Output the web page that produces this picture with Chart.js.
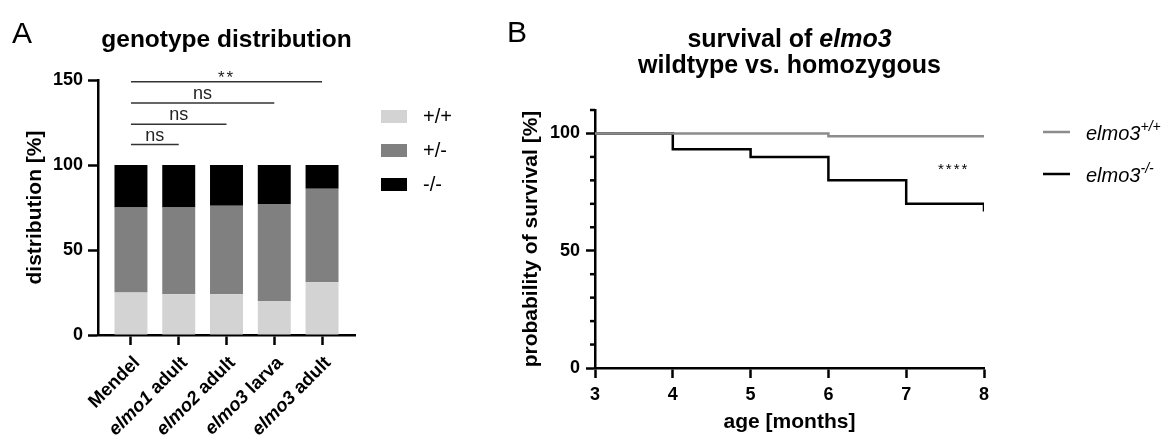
<!DOCTYPE html>
<html>
<head>
<meta charset="utf-8">
<script src="https://cdn.jsdelivr.net/npm/chart.js@4.4.1/dist/chart.umd.min.js"></script>
<style>
  html, body { margin: 0; padding: 0; background: #fff; }
  #chartA { position: absolute; left: 0; top: 0; }
  #chartB { position: absolute; left: 480px; top: 0; }
</style>
</head>
<body>
<canvas id="chartA" width="470" height="437"></canvas>
<canvas id="chartB" width="692" height="437"></canvas>
<script>
const fam = '"Liberation Sans", Arial, sans-serif';
Chart.defaults.font.family = fam;
Chart.defaults.color = '#000';

// panel A - genotype distribution [%]
const genotypeGroups = ['Mendel', 'elmo1 adult', 'elmo2 adult', 'elmo3 larva', 'elmo3 adult'];
const wildtypePct = [25, 24, 24, 20, 31];
const heterozygousPct = [50, 51, 52, 57, 55];
const homozygousPct = [25, 25, 24, 23, 14];
const genotypeLabels = ['+/+', '+/-', '-/-'];
const genotypeColors = ['#d3d3d3', '#808080', '#000000'];

// significance brackets (from group, to group, text, height in %)
const sigFrom = [0, 0, 0, 0];
const sigTo = [1, 2, 3, 4];
const sigText = ['ns', 'ns', 'ns', '**'];
const sigLevel = [112, 124, 136.5, 149];

// panel B - survival
const ageMonths = [3, 4, 5, 6, 7, 8];
const survivalWT = [100, 100, 100, 98.8, 98.8, 98.8];
const survivalHom = [100, 93.3, 90, 80, 70, 66.7];
const survivalLabels = ['+/+', '-/-'];
const survivalColors = ['#8c8c8c', '#000000'];
const survivalSig = '****';
const survivalSigAt = [7.61, 85.7];

// draw a run of text pieces with different fonts
function drawParts(ctx, parts, x, y, align) {
  let total = 0;
  parts.forEach(p => { ctx.font = p.font; total += ctx.measureText(p.text).width; });
  let cx = align === 'right' ? x - total : align === 'center' ? x - total / 2 : x;
  ctx.textAlign = 'left';
  parts.forEach(p => {
    ctx.font = p.font;
    ctx.fillText(p.text, cx, y + (p.dy || 0));
    cx += ctx.measureText(p.text).width;
  });
}

function groupParts(label) {
  const m = label.match(/^(elmo\d)(.*)$/);
  if (!m) return [{text: label, font: 'bold 18.5px ' + fam}];
  return [{text: m[1], font: 'italic bold 18.5px ' + fam}, {text: m[2], font: 'bold 18.5px ' + fam}];
}

const panelA = {
  id: 'panelA',
  afterDraw(chart) {
    const {ctx, chartArea, scales: {x, y}} = chart;
    ctx.save();
    ctx.fillStyle = '#000';
    ctx.textBaseline = 'alphabetic';
    ctx.font = '30px ' + fam;
    ctx.textAlign = 'left';
    ctx.fillText('A', 12, 43);
    ctx.font = 'bold 24.5px ' + fam;
    ctx.textAlign = 'center';
    ctx.fillText('genotype distribution', (chartArea.left + chartArea.right) / 2, 47);

    // significance lines
    ctx.strokeStyle = '#333';
    ctx.fillStyle = '#222';
    ctx.lineWidth = 1.5;
    sigText.forEach((t, i) => {
      const x1 = x.getPixelForValue(sigFrom[i]);
      const x2 = x.getPixelForValue(sigTo[i]);
      const yy = y.getPixelForValue(sigLevel[i]);
      ctx.beginPath();
      ctx.moveTo(x1, yy);
      ctx.lineTo(x2, yy);
      ctx.stroke();
      ctx.textAlign = 'center';
      if (t === 'ns') {
        ctx.font = '18px ' + fam;
        ctx.fillText(t, (x1 + x2) / 2, yy - 4);
      } else {
        ctx.font = '17px ' + fam;
        ctx.letterSpacing = '2px';
        ctx.fillText(t, (x1 + x2) / 2, yy + 1);
        ctx.letterSpacing = '0px';
      }
    });

    // rotated group labels
    ctx.fillStyle = '#000';
    ctx.textBaseline = 'middle';
    genotypeGroups.forEach((g, i) => {
      const px = x.getPixelForValue(i);
      ctx.save();
      ctx.translate(px + 6, chartArea.bottom + 25);
      ctx.rotate(-Math.PI / 4);
      drawParts(ctx, groupParts(g), 0, 0, 'right');
      ctx.restore();
    });

    // legend
    genotypeLabels.forEach((lab, k) => {
      const top = 110 + k * 34;
      ctx.fillStyle = genotypeColors[k];
      ctx.fillRect(chartArea.right + 26, top, 26, 13);
      ctx.fillStyle = '#000';
      ctx.font = '20px ' + fam;
      ctx.textAlign = 'left';
      ctx.textBaseline = 'middle';
      ctx.fillText(lab, chartArea.right + 68, top + 7);
    });
    ctx.restore();
  }
};

const panelB = {
  id: 'panelB',
  afterDraw(chart) {
    const {ctx, chartArea, scales: {x, y}} = chart;
    ctx.save();
    ctx.fillStyle = '#000';
    ctx.textBaseline = 'alphabetic';
    ctx.font = '30px ' + fam;
    ctx.textAlign = 'left';
    ctx.fillText('B', 27, 42);
    const cx = (chartArea.left + chartArea.right) / 2;
    drawParts(ctx, [
      {text: 'survival of ', font: 'bold 25px ' + fam},
      {text: 'elmo3', font: 'italic bold 25px ' + fam}
    ], cx, 47, 'center');
    drawParts(ctx, [{text: 'wildtype vs. homozygous', font: 'bold 25px ' + fam}], cx, 73, 'center');

    // minor y ticks
    ctx.strokeStyle = '#000';
    ctx.lineWidth = 2.5;
    y.ticks.forEach(t => {
      if (t.value % 50 === 0) return;
      const py = y.getPixelForValue(t.value);
      ctx.beginPath();
      ctx.moveTo(chartArea.left - 5, py);
      ctx.lineTo(chartArea.left, py);
      ctx.stroke();
    });

    // log-rank result
    ctx.font = '15px ' + fam;
    ctx.textAlign = 'center';
    ctx.textBaseline = 'middle';
    ctx.letterSpacing = '2px';
    ctx.fillText(survivalSig, x.getPixelForValue(survivalSigAt[0]), y.getPixelForValue(survivalSigAt[1]) + 3);
    ctx.letterSpacing = '0px';

    // legend
    survivalLabels.forEach((sup, k) => {
      const ly = 132 + k * 42;
      ctx.strokeStyle = survivalColors[k];
      ctx.lineWidth = 2.5;
      ctx.beginPath();
      ctx.moveTo(chartArea.right + 59, ly);
      ctx.lineTo(chartArea.right + 86, ly);
      ctx.stroke();
      ctx.fillStyle = '#000';
      ctx.textBaseline = 'alphabetic';
      drawParts(ctx, [
        {text: 'elmo3', font: 'italic 20px ' + fam},
        {text: sup, font: 'italic 14px ' + fam, dy: -9}
      ], chartArea.right + 102, ly + 8, 'left');
    });
    ctx.restore();
  }
};

const axisLine = {color: '#000', width: 2.5};
const tickGrid = {drawOnChartArea: false, offset: false, tickLength: 10, tickWidth: 2.5, tickColor: '#000'};

new Chart(document.getElementById('chartA'), {
  type: 'bar',
  data: {
    datasets: [wildtypePct, heterozygousPct, homozygousPct].map((vals, k) => ({
      label: genotypeLabels[k],
      data: vals.map((v, i) => ({x: i, y: v})),
      backgroundColor: genotypeColors[k],
      borderWidth: 0,
      barPercentage: 0.69,
      categoryPercentage: 1
    }))
  },
  options: {
    responsive: false,
    animation: false,
    layout: {padding: {top: 80, right: 115, bottom: 0, left: 0}},
    plugins: {legend: {display: false}, tooltip: {enabled: false}},
    scales: {
      x: {
        type: 'linear', stacked: true, min: -0.69, max: 4.69, offset: false,
        afterBuildTicks: s => { s.ticks = genotypeGroups.map((g, i) => ({value: i})); },
        ticks: {display: false},
        grid: tickGrid,
        border: axisLine,
        afterFit: s => { s.height = 102; }
      },
      y: {
        stacked: true, min: 0, max: 150,
        ticks: {stepSize: 50, padding: 5, font: {size: 18, weight: 'bold'}, color: '#000'},
        grid: tickGrid,
        border: axisLine,
        title: {display: true, text: 'distribution [%]', font: {size: 21, weight: 'bold'}, color: '#000', padding: {top: 23, bottom: 0}},
        afterFit: s => { s.width = 98; }
      }
    }
  },
  plugins: [panelA]
});

new Chart(document.getElementById('chartB'), {
  type: 'line',
  data: {
    datasets: [survivalWT, survivalHom].map((vals, k) => ({
      label: 'elmo3 ' + survivalLabels[k],
      data: vals.map((v, i) => ({x: ageMonths[i], y: v})),
      borderColor: survivalColors[k],
      borderWidth: 2.5,
      stepped: 'before',
      pointRadius: 0,
      fill: false
    }))
  },
  options: {
    responsive: false,
    animation: false,
    layout: {padding: {top: 110, right: 188, bottom: 0, left: 0}},
    plugins: {legend: {display: false}, tooltip: {enabled: false}},
    scales: {
      x: {
        type: 'linear', min: 3, max: 8,
        ticks: {stepSize: 1, padding: 6, font: {size: 18, weight: 'bold'}, color: '#000'},
        grid: tickGrid,
        border: axisLine,
        title: {display: true, text: 'age [months]', font: {size: 21, weight: 'bold'}, color: '#000', padding: {top: 0, bottom: 2}},
        afterFit: s => { s.height = 69; }
      },
      y: {
        min: 0, max: 110,
        ticks: {stepSize: 10, padding: 6, autoSkip: false, font: {size: 18, weight: 'bold'}, color: '#000',
          callback: v => v % 50 === 0 ? v : ''},
        grid: {drawOnChartArea: false, tickLength: 9, tickWidth: 2.5,
          tickColor: c => (c.tick && c.tick.value % 50 === 0) ? '#000' : 'rgba(0,0,0,0)'},
        border: axisLine,
        title: {display: true, text: 'probability of survival [%]', font: {size: 21, weight: 'bold'}, color: '#000', padding: {top: 39, bottom: 0}},
        afterFit: s => { s.width = 115; }
      }
    }
  },
  plugins: [panelB]
});
</script>
</body>
</html>
